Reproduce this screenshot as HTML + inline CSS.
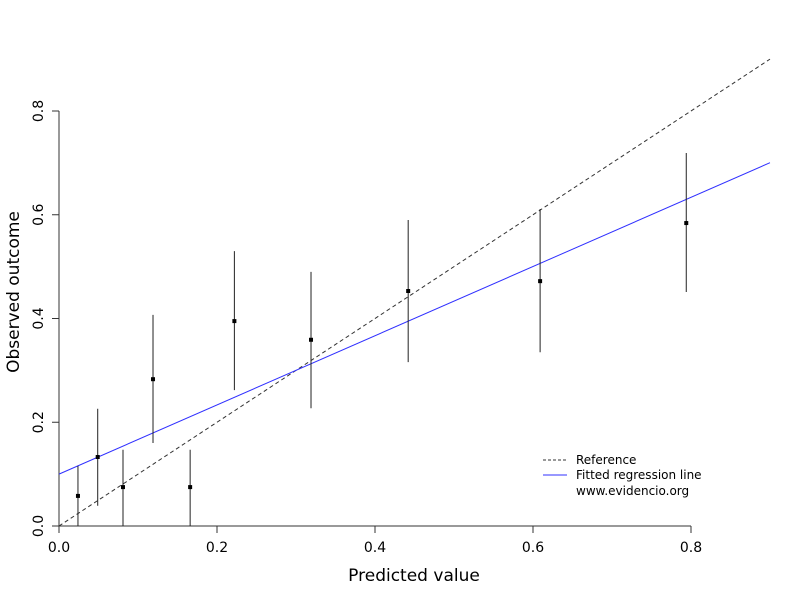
<!DOCTYPE html>
<html><head><meta charset="utf-8"><style>body{margin:0;background:#fff}svg{display:block;font-family:"DejaVu Sans","Liberation Sans",sans-serif}</style></head>
<body>
<svg id="c" width="800" height="600"></svg>
<script>
const xs=[0.024,0.049,0.081,0.119,0.166,0.222,0.319,0.442,0.609,0.794];
const ys=[0.058,0.133,0.075,0.283,0.075,0.395,0.359,0.453,0.472,0.584];
const lo=[0,0.039,0,0.16,0,0.262,0.227,0.316,0.335,0.451];
const hi=[0.116,0.226,0.147,0.407,0.147,0.53,0.49,0.59,0.611,0.719];
const ticks=[0,0.2,0.4,0.6,0.8];
const tickLabels=["0.0","0.2","0.4","0.6","0.8"];
const fitIntercept=0.1, fitSlope=0.667;
const X=v=>59+v*790, Y=v=>526-v*518.75;
const s=document.getElementById('c'),NS='http://www.w3.org/2000/svg';
function mk(t,a,txt){const e=document.createElementNS(NS,t);for(const k in a)e.setAttribute(k,a[k]);if(txt!=null)e.textContent=txt;s.appendChild(e);return e;}
let e;
e=mk('line',{x1:X(0),y1:Y(0),x2:X(0.8),y2:Y(0),stroke:'#333','stroke-width':1});


e=mk('line',{x1:X(0),y1:Y(0),x2:X(0),y2:Y(0.8),stroke:'#333','stroke-width':1});


ticks.forEach((t,i)=>{
 e=mk('line',{x1:X(t),y1:526,x2:X(t),y2:533,stroke:'#333'});
 
 
 e=mk('text',{x:X(t),y:552,'font-size':14,'text-anchor':'middle'},tickLabels[i]);
 
 
 e=mk('line',{x1:52,y1:Y(t),x2:59,y2:Y(t),stroke:'#333'});
 
 
 e=mk('text',{x:43,y:Y(t),'font-size':14,'text-anchor':'middle',transform:`rotate(-90 43 ${Y(t)})`},tickLabels[i]);
 
 
});
e=mk('text',{x:414,y:581,'font-size':17,'text-anchor':'middle'},'Predicted value');


e=mk('text',{x:14,y:292,'font-size':17,'text-anchor':'middle',transform:'rotate(-90 14 292)','dominant-baseline':'middle'},'Observed outcome');


e=mk('line',{x1:X(0),y1:Y(0),x2:X(0.9),y2:Y(0.9),stroke:'#333','stroke-dasharray':'4,3'});


e=mk('line',{x1:X(0),y1:Y(fitIntercept),x2:X(0.9),y2:Y(fitIntercept+fitSlope*0.9),stroke:'#3030ff'});


xs.forEach((x,i)=>{
 e=mk('line',{x1:X(x),y1:Y(lo[i]),x2:X(x),y2:Y(hi[i]),stroke:'#222'});
 
 
 e=mk('rect',{x:X(x)-2,y:Y(ys[i])-2,width:4,height:4,fill:'#000'});
 
 
});
e=mk('line',{x1:543,y1:460,x2:567,y2:460,stroke:'#333','stroke-dasharray':'3,2'});


e=mk('text',{x:576,y:464,'font-size':12},'Reference');


e=mk('line',{x1:543,y1:475,x2:567,y2:475,stroke:'#3030ff'});


e=mk('text',{x:576,y:479,'font-size':12},'Fitted regression line');


e=mk('text',{x:576,y:495,'font-size':12},'www.evidencio.org');


</script>
</body></html>
